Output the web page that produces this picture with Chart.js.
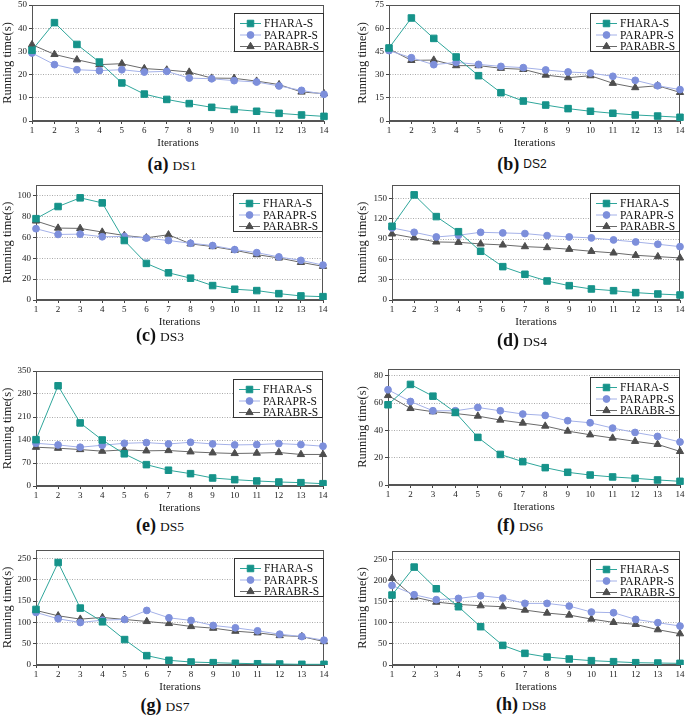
<!DOCTYPE html>
<html lang="en">
<head>
<meta charset="UTF-8">
<title>Running time vs iterations</title>
<script src="https://cdn.jsdelivr.net/npm/chart.js@4.4.0/dist/chart.umd.min.js"></script>
<style>
    html, body { margin: 0; padding: 0; background: #fff; overflow: hidden; }
    body { width: 685px; height: 717px; position: relative; font-family: "Liberation Serif", "Times New Roman", serif; }
    .panel { position: absolute; }
    .cap { position: absolute; transform: translate(-50%, -50%); white-space: nowrap; color: #111; line-height: 1; }
    .cap b { font-size: 18px; }
    .cap span { font-size: 13.5px; margin-left: 4px; }
</style>
</head>
<body>
<script>
    // x axis
    const iterations = [1, 2, 3, 4, 5, 6, 7, 8, 9, 10, 11, 12, 13, 14];

    // DS1
    const ds1Fhara  = [30.5, 42.4, 33.0, 25.4, 16.4, 11.6, 9.3, 7.5, 5.9, 5.0, 4.2, 3.3, 2.6, 2.0];
    const ds1Parapr = [29.3, 24.3, 22.1, 21.7, 22.1, 21.1, 21.4, 18.5, 18.2, 17.4, 16.8, 15.1, 13.2, 11.5];
    const ds1Parabr = [32.9, 28.7, 26.4, 24.3, 24.7, 22.6, 22.0, 21.1, 18.5, 18.4, 17.2, 15.7, 12.5, 11.8];
    // DS2
    const ds2Fhara  = [47.2, 66.6, 53.4, 41.4, 29.3, 18.3, 12.9, 10.3, 8.0, 6.3, 5.0, 3.9, 3.2, 2.4];
    const ds2Parapr = [45.5, 40.9, 36.4, 37.9, 36.6, 35.3, 34.5, 33.0, 31.7, 31.0, 28.9, 26.3, 22.8, 20.3];
    const ds2Parabr = [46.6, 39.2, 39.4, 35.8, 35.8, 34.1, 33.4, 29.7, 28.0, 29.3, 24.4, 21.6, 22.8, 18.5];
    // DS3
    const ds3Fhara  = [77.8, 89.4, 97.7, 92.9, 56.9, 35.0, 26.0, 20.9, 13.8, 10.3, 9.0, 6.1, 3.9, 3.2];
    const ds3Parapr = [68.2, 62.7, 63.0, 60.5, 60.8, 59.2, 56.9, 54.3, 52.1, 48.2, 45.3, 41.2, 37.9, 33.4];
    const ds3Parabr = [75.6, 68.8, 68.5, 65.0, 61.7, 59.5, 62.4, 53.7, 51.1, 47.6, 43.4, 40.2, 36.0, 32.2];
    // DS4
    const ds4Fhara  = [109, 155.4, 123.3, 101, 72, 49.3, 38, 28.1, 21.2, 16.3, 13.8, 10.9, 8.9, 7.4];
    const ds4Parapr = [106.6, 100.1, 93.2, 95.7, 100.1, 99.2, 98.2, 95.2, 93.2, 91.8, 88.8, 85.8, 82.4, 78.9];
    const ds4Parabr = [97.7, 91.8, 85.8, 85.3, 82.9, 81.4, 78.9, 77.5, 75.0, 72.0, 69.6, 66.1, 64.1, 62.2];
    // DS5
    const ds5Fhara  = [141, 305, 192, 140, 98, 65, 48, 37.6, 24.4, 19.3, 15.3, 12.2, 10.2, 7.1];
    const ds5Parapr = [130, 125, 118, 124, 130, 132, 128, 133, 128, 125, 126, 129, 126, 121];
    const ds5Parabr = [118, 115, 111, 106, 110, 107, 108, 104, 101, 99, 100, 102, 96, 96];
    // DS6
    const ds6Fhara  = [58.8, 73.7, 65.1, 53.2, 34.9, 22.4, 17.1, 12.7, 9.3, 7.3, 5.9, 4.9, 3.7, 2.7];
    const ds6Parapr = [69.8, 61.2, 54.4, 54.4, 56.8, 54.4, 52.0, 51.0, 47.1, 45.6, 41.7, 38.5, 35.6, 31.5];
    const ds6Parabr = [65.6, 56.1, 53.7, 52.4, 50.5, 47.6, 45.4, 43.2, 39.5, 36.8, 34.4, 32.0, 29.8, 24.6];
    // DS7
    const ds7Fhara  = [130.5, 240.6, 133.6, 101.4, 59.7, 22, 11, 7, 5.5, 4, 3, 2.4, 1.6, 1.6];
    const ds7Parapr = [123.4, 108.5, 99.8, 105.3, 106.9, 128.1, 110.8, 104.6, 92.8, 87.3, 80.2, 72.3, 66.8, 58.2];
    const ds7Parabr = [128.1, 115.6, 107.7, 111.6, 106.9, 102.2, 97.5, 90.4, 86.5, 79.4, 75.5, 69.2, 66.8, 55];
    // DS8
    const ds8Fhara  = [165.6, 231.9, 180.6, 138, 90.7, 46.5, 27.6, 18.9, 14.2, 10.3, 7.9, 5.5, 4.7, 3.9];
    const ds8Parapr = [188.5, 166.4, 154.6, 157.7, 164, 158.5, 145.9, 145.9, 139.6, 125.4, 123.8, 108, 100.2, 92.3];
    const ds8Parabr = [205, 160.9, 149, 143.5, 140.4, 138, 130.1, 123, 118.3, 108.8, 100.9, 96.2, 83.6, 74.1];

    const seriesNames = ['FHARA-S', 'PARAPR-S', 'PARABR-S'];
    const letters = ['a', 'b', 'c', 'd', 'e', 'f', 'g', 'h'];
    const dsNames = ['DS1', 'DS2', 'DS3', 'DS4', 'DS5', 'DS6', 'DS7', 'DS8'];
    const yMax  = [50, 75, 110, 170, 350, 85, 270, 270];
    const yStep = [10, 15, 20, 30, 70, 20, 50, 50];

    const allData = [
        [ds1Fhara, ds1Parapr, ds1Parabr],
        [ds2Fhara, ds2Parapr, ds2Parabr],
        [ds3Fhara, ds3Parapr, ds3Parabr],
        [ds4Fhara, ds4Parapr, ds4Parabr],
        [ds5Fhara, ds5Parapr, ds5Parabr],
        [ds6Fhara, ds6Parapr, ds6Parabr],
        [ds7Fhara, ds7Parapr, ds7Parabr],
        [ds8Fhara, ds8Parapr, ds8Parabr]
    ];

    // plot area placement on the page (L/R/T/B = plot box edges), caption centre
    const panels = [
        { L: 32,  R: 324, T: 5,   B: 121, cx: 0,   capX: 172, capY: 164 },
        { L: 389, R: 680, T: 5,   B: 121, cx: 355, capX: 522, capY: 164 },
        { L: 36,  R: 323, T: 185, B: 300, cx: 0,   capX: 160, capY: 335 },
        { L: 392, R: 680, T: 185, B: 300, cx: 355, capX: 522, capY: 340 },
        { L: 36,  R: 323, T: 371, B: 486, cx: 0,   capX: 160, capY: 525 },
        { L: 388, R: 680, T: 369, B: 485, cx: 355, capX: 520, capY: 525 },
        { L: 36,  R: 324, T: 550, B: 665, cx: 0,   capX: 165, capY: 705 },
        { L: 392, R: 680, T: 551, B: 665, cx: 355, capX: 521, capY: 704 }
    ];

    const styles = [
        { line: '#2fa69b', mark: '#16938a', shape: 'rect', r: 4.6 },
        { line: '#a4b1e8', mark: '#7d8fdb', shape: 'circle', r: 3.4 },
        { line: '#6a6a6a', mark: '#4e4e4e', shape: 'triangle', r: 4.2 }
    ];

    Chart.defaults.font.family = "'Liberation Serif', 'Times New Roman', serif";
    Chart.defaults.color = '#222';

    const PAD_TOP = 8, PAD_RIGHT = 8, X_AXIS_H = 29;

    // box round the plot
    const framePlugin = {
        id: 'frame',
        beforeDatasetsDraw(chart) {
            const a = chart.chartArea, ctx = chart.ctx;
            ctx.save();
            ctx.strokeStyle = '#555';
            ctx.lineWidth = 1;
            ctx.strokeRect(Math.round(a.left) + 0.5, Math.round(a.top) + 0.5,
                Math.round(a.right - a.left) - 1, Math.round(a.bottom - a.top) - 1);
            ctx.restore();
        }
    };

    // legend box inside the top right corner
    const boxLegend = {
        id: 'boxLegend',
        afterDatasetsDraw(chart) {
            const a = chart.chartArea, ctx = chart.ctx;
            const w = 90, h = 39;
            const x0 = Math.round(a.right) - w, y0 = Math.round(a.top) + 8;
            ctx.save();
            ctx.fillStyle = '#fff';
            ctx.fillRect(x0, y0, w, h);
            ctx.strokeStyle = '#333';
            ctx.lineWidth = 1;
            ctx.strokeRect(x0 + 0.5, y0 + 0.5, w - 1, h - 1);
            const rows = [10.5, 22, 33.5];
            chart.data.datasets.forEach((ds, i) => {
                const y = y0 + rows[i];
                ctx.strokeStyle = ds.borderColor;
                ctx.lineWidth = 1;
                ctx.beginPath();
                ctx.moveTo(x0 + 6, y);
                ctx.lineTo(x0 + 27, y);
                ctx.stroke();
                ctx.fillStyle = ds.pointBackgroundColor;
                ctx.strokeStyle = ds.pointBorderColor;
                Chart.helpers.drawPoint(ctx, { pointStyle: ds.pointStyle, radius: ds.pointRadius, rotation: 0, borderWidth: 1 }, x0 + 16.5, y);
                ctx.fillStyle = '#111';
                ctx.font = "11.5px 'Liberation Serif', serif";
                ctx.textBaseline = 'middle';
                ctx.textAlign = 'left';
                ctx.fillText(ds.label, x0 + 30, y + 0.5);
            });
            ctx.restore();
        }
    };

    panels.forEach((p, k) => {
        const wrap = document.createElement('div');
        wrap.className = 'panel';
        const cw = p.R + PAD_RIGHT - p.cx;
        const ch = PAD_TOP + (p.B - p.T) + X_AXIS_H;
        wrap.style.left = p.cx + 'px';
        wrap.style.top = (p.T - PAD_TOP) + 'px';
        wrap.style.width = cw + 'px';
        wrap.style.height = ch + 'px';
        const canvas = document.createElement('canvas');
        canvas.width = cw;
        canvas.height = ch;
        wrap.appendChild(canvas);
        document.body.appendChild(wrap);

        const yw = p.L - p.cx;
        const step = yStep[k];

        new Chart(canvas, {
            type: 'line',
            data: {
                labels: iterations,
                datasets: allData[k].map((vals, i) => ({
                    label: seriesNames[i],
                    data: vals,
                    borderColor: styles[i].line,
                    borderWidth: 1,
                    pointStyle: styles[i].shape,
                    pointRadius: styles[i].r,
                    pointBackgroundColor: styles[i].mark,
                    pointBorderColor: styles[i].mark,
                    pointBorderWidth: 1,
                    tension: 0,
                    fill: false
                }))
            },
            options: {
                responsive: false,
                animation: false,
                devicePixelRatio: 1,
                layout: { padding: { top: PAD_TOP, right: PAD_RIGHT, left: 0, bottom: 0 } },
                plugins: { legend: { display: false }, tooltip: { enabled: false } },
                scales: {
                    x: {
                        ticks: { font: { size: 9 }, padding: 1, maxRotation: 0, autoSkip: false },
                        grid: { drawOnChartArea: false, tickLength: 3, tickColor: '#444' },
                        border: { color: '#555' },
                        title: { display: true, text: 'Iterations', font: { size: 11 }, padding: 0, color: '#222' },
                        afterFit: s => { s.height = X_AXIS_H; }
                    },
                    y: {
                        min: 0,
                        max: yMax[k],
                        ticks: { stepSize: step, includeBounds: false, autoSkip: false, font: { size: 9 }, padding: 2 },
                        afterBuildTicks: s => { s.ticks = s.ticks.filter(t => t.value % step === 0); },
                        grid: { color: '#aaa', tickLength: 3, tickColor: '#444', tickBorderDash: [] },
                        border: { color: '#555', dash: [1, 1.5] },
                        title: { display: true, text: 'Running time(s)', font: { size: 12.5 }, padding: 0, color: '#222' },
                        afterFit: s => { s.width = yw; }
                    }
                }
            },
            plugins: [framePlugin, boxLegend]
        });

        const cap = document.createElement('div');
        cap.className = 'cap';
        cap.style.left = p.capX + 'px';
        cap.style.top = p.capY + 'px';
        const nameStyle = k === 1 ? ' style="font-family:\'Liberation Sans\', sans-serif;font-size:12px;vertical-align:2px"' : '';
        cap.innerHTML = '<b>(' + letters[k] + ')</b><span' + nameStyle + '>' + dsNames[k] + '</span>';
        document.body.appendChild(cap);
    });
</script>
</body>
</html>
